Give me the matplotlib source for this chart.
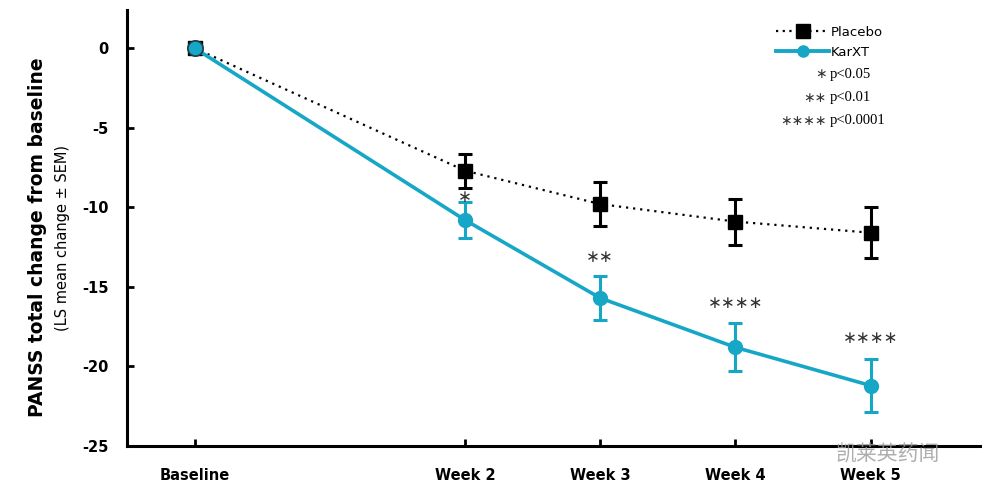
import matplotlib.pyplot as plt
from matplotlib.lines import Line2D
import numpy as np

plt.rcParams['axes.unicode_minus'] = False

# data
weeks = [0, 2, 3, 4, 5]
week_labels = ['Baseline', 'Week 2', 'Week 3', 'Week 4', 'Week 5']
placebo = [0, -7.7, -9.8, -10.9, -11.6]
placebo_sem = [0, 1.07, 1.4, 1.45, 1.6]
karxt = [0, -10.8, -15.7, -18.8, -21.2]
karxt_sem = [0, 1.15, 1.4, 1.5, 1.65]
stars = ['', '\u2217', '\u2217\u2217', '\u2217\u2217\u2217\u2217',
         '\u2217\u2217\u2217\u2217']
star_y = [0, -9.35, -13.1, -16.0, -18.2]
pvalue_keys = ['\u2217', '\u2217\u2217', '\u2217\u2217\u2217\u2217']
pvalue_text = ['p<0.05', 'p<0.01', 'p<0.0001']

CYAN = '#17a7c6'

fig = plt.figure(figsize=(9.84, 4.95), dpi=100)
ax = fig.add_axes([0.129, 0.099, 0.867, 0.881])

ax.errorbar(weeks[1:], placebo[1:], yerr=placebo_sem[1:], fmt='none',
            ecolor='black', elinewidth=2.2, capsize=5, capthick=2.2, zorder=3)
ax.plot(weeks, placebo, color='black', ls=(0, (1, 2.2)), lw=1.6,
        marker='s', ms=10, mfc='black', mec='black', zorder=4)
ax.errorbar(weeks[1:], karxt[1:], yerr=karxt_sem[1:], fmt='none',
            ecolor=CYAN, elinewidth=2.2, capsize=5, capthick=2.2, zorder=3)
ax.plot(weeks, karxt, color=CYAN, lw=2.6, marker='o', ms=10,
        mfc=CYAN, mec=CYAN, zorder=5)
# baseline dot with dark rim
ax.plot(weeks[0], karxt[0], marker='o', ms=11, mfc=CYAN, mec='#1f3b45',
        mew=1.2, zorder=6)

for w, s, y in zip(weeks, stars, star_y):
    if s:
        ax.text(w, y, s, ha='center', va='center', fontsize=12,
                family='DejaVu Sans', color='#333333')

ax.set_xlim(-0.5, 5.81)
ax.set_ylim(-25, 2.4)
ax.set_yticks([0, -5, -10, -15, -20, -25])
ax.set_xticks(weeks)
ax.set_xticklabels(week_labels)
for lab in ax.get_xticklabels() + ax.get_yticklabels():
    lab.set_fontweight('bold')
    lab.set_fontsize(10.5)
ax.tick_params(axis='y', direction='in', length=5, width=2, pad=13)
ax.tick_params(axis='x', direction='in', length=5, width=2, pad=16)
for side in ['top', 'right']:
    ax.spines[side].set_visible(False)
for side in ['left', 'bottom']:
    ax.spines[side].set_linewidth(2.2)

fig.text(0.038, 0.52, 'PANSS total change from baseline', rotation=90,
         ha='center', va='center', fontsize=13.5, fontweight='bold')
fig.text(0.064, 0.52, '(LS mean change \u00b1 SEM)', rotation=90,
         ha='center', va='center', fontsize=10.5)

handles = [
    Line2D([], [], color='black', ls=(0, (1, 2)), lw=1.6, marker='s', ms=10),
    Line2D([], [], color=CYAN, lw=2.8, marker='o', ms=8),
]
leg = ax.legend(handles, ['Placebo', 'KarXT'], loc='upper left',
                bbox_to_anchor=(0.755, 0.975), frameon=False, fontsize=9.5,
                handlelength=4.0, handletextpad=0.1, labelspacing=0.5,
                borderaxespad=0)

for i, (k, t) in enumerate(zip(pvalue_keys, pvalue_text)):
    y = 0.852 - i * 0.053
    ax.text(0.820, y, k, transform=ax.transAxes, ha='right', va='center',
            fontsize=10, family='DejaVu Sans', color='#333333')
    ax.text(0.824, y, t, transform=ax.transAxes, ha='left', va='center',
            fontsize=10.5, family='Liberation Serif')

fig.text(0.849, 0.082, '\u51ef\u83b1\u82f1\u836f\u95fb', ha='left',
         va='center', fontsize=15, color='#9a9a9a', alpha=0.8,
         family=['Noto Sans CJK SC', 'DejaVu Sans'])

fig.savefig('out.png', dpi=100)
